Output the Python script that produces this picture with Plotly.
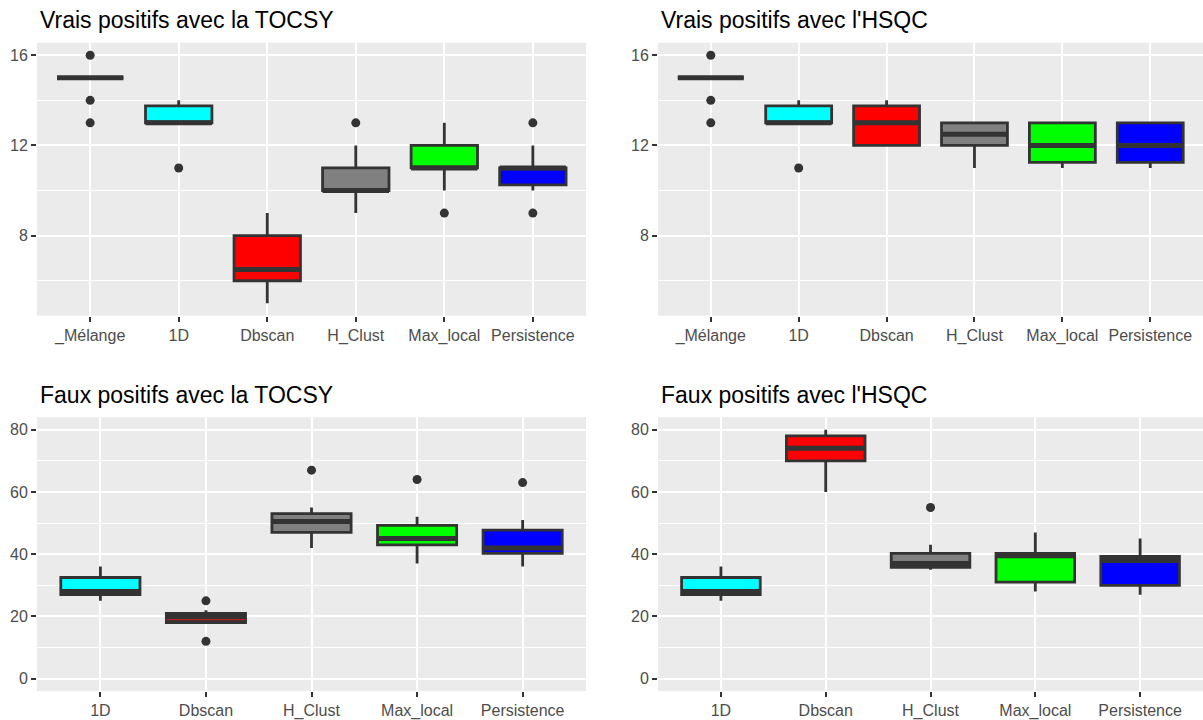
import plotly.graph_objects as go
from plotly.subplots import make_subplots

# ---- categories ----
CATS_VP = ["_Mélange", "1D", "Dbscan", "H_Clust", "Max_local", "Persistence"]
CATS_FP = ["1D", "Dbscan", "H_Clust", "Max_local", "Persistence"]

# ---- Vrais positifs, TOCSY ----
vp_tocsy_q1 = [15, 13, 6, 10, 11, 10.25]
vp_tocsy_med = [15, 13, 6.5, 10, 11, 11]
vp_tocsy_q3 = [15, 13.75, 8, 11, 12, 11]
vp_tocsy_lo = [15, 13, 5, 9, 10, 10]
vp_tocsy_hi = [15, 14, 9, 12, 13, 12]
vp_tocsy_out = [[16, 14, 13], [11], [], [13], [9], [13, 9]]

# ---- Vrais positifs, HSQC ----
vp_hsqc_q1 = [15, 13, 12, 12, 11.25, 11.25]
vp_hsqc_med = [15, 13, 13, 12.5, 12, 12]
vp_hsqc_q3 = [15, 13.75, 13.75, 13, 13, 13]
vp_hsqc_lo = [15, 13, 12, 11, 11, 11]
vp_hsqc_hi = [15, 14, 14, 13, 13, 13]
vp_hsqc_out = [[16, 14, 13], [11], [], [], [], []]

# ---- Faux positifs, TOCSY ----
fp_tocsy_q1 = [27, 18, 47, 43, 40.25]
fp_tocsy_med = [28, 19, 50.5, 45, 42]
fp_tocsy_q3 = [32.5, 21, 53, 49.25, 47.75]
fp_tocsy_lo = [25, 18, 42, 37, 36]
fp_tocsy_hi = [36, 22, 55, 52, 51]
fp_tocsy_out = [[], [25, 12], [67], [64], [63]]

# ---- Faux positifs, HSQC ----
fp_hsqc_q1 = [27, 70, 35.75, 31, 30]
fp_hsqc_med = [28, 74, 37, 39.5, 38]
fp_hsqc_q3 = [32.5, 78, 40.25, 40.25, 39.25]
fp_hsqc_lo = [25, 60, 35, 28, 27]
fp_hsqc_hi = [36, 80, 43, 47, 45]
fp_hsqc_out = [[], [], [55], [], []]

# ---- styles ----
FILL = {
    "_Mélange": "#FFFFFF",
    "1D": "#00FFFF",
    "Dbscan": "#FF0000",
    "H_Clust": "#808080",
    "Max_local": "#00FF00",
    "Persistence": "#0000FF",
}
EDGE = "#333333"
FONT = "Liberation Sans, Arial, sans-serif"

panels = [
    dict(title="Vrais positifs avec la TOCSY", cats=CATS_VP, q1=vp_tocsy_q1, med=vp_tocsy_med,
         q3=vp_tocsy_q3, lo=vp_tocsy_lo, hi=vp_tocsy_hi, out=vp_tocsy_out, row=1, col=1,
         special={}),
    dict(title="Vrais positifs avec l'HSQC", cats=CATS_VP, q1=vp_hsqc_q1, med=vp_hsqc_med,
         q3=vp_hsqc_q3, lo=vp_hsqc_lo, hi=vp_hsqc_hi, out=vp_hsqc_out, row=1, col=2,
         special={}),
    dict(title="Faux positifs avec la TOCSY", cats=CATS_FP, q1=fp_tocsy_q1, med=fp_tocsy_med,
         q3=fp_tocsy_q3, lo=fp_tocsy_lo, hi=fp_tocsy_hi, out=fp_tocsy_out, row=2, col=1,
         special={"Dbscan": dict(fill=EDGE, median_color="#B22222", median_width=1.2)}),
    dict(title="Faux positifs avec l'HSQC", cats=CATS_FP, q1=fp_hsqc_q1, med=fp_hsqc_med,
         q3=fp_hsqc_q3, lo=fp_hsqc_lo, hi=fp_hsqc_hi, out=fp_hsqc_out, row=2, col=2,
         special={}),
]

fig = make_subplots(rows=2, cols=2)

for p in panels:
    r, c = p["row"], p["col"]
    for i, cat in enumerate(p["cats"]):
        sp = p["special"].get(cat, {})
        # box body + whiskers
        fig.add_trace(go.Box(
            x=[cat], q1=[p["q1"][i]], median=[p["med"][i]], q3=[p["q3"][i]],
            lowerfence=[p["lo"][i]], upperfence=[p["hi"][i]],
            width=0.75, whiskerwidth=0, boxpoints=False,
            fillcolor=sp.get("fill", FILL[cat]),
            line=dict(color=EDGE, width=2.8),
            showlegend=False, hoverinfo="skip",
        ), row=r, col=c)
        # emphasised median bar
        m = p["med"][i]
        fig.add_trace(go.Box(
            x=[cat], q1=[m], median=[m], q3=[m], lowerfence=[m], upperfence=[m],
            width=0.75, whiskerwidth=0, boxpoints=False,
            fillcolor="rgba(0,0,0,0)",
            line=dict(color=sp.get("median_color", EDGE), width=sp.get("median_width", 5)),
            showlegend=False, hoverinfo="skip",
        ), row=r, col=c)
    # outliers
    ox, oy = [], []
    for cat, vals in zip(p["cats"], p["out"]):
        for v in vals:
            ox.append(cat)
            oy.append(v)
    fig.add_trace(go.Scatter(
        x=ox, y=oy, mode="markers",
        marker=dict(color=EDGE, size=9, line=dict(width=0)),
        showlegend=False, hoverinfo="skip",
    ), row=r, col=c)

# panel placement (paper fractions)
x_dom = {1: [0.0308, 0.4871], 2: [0.5470, 1.0]}
y_dom = {1: [0.5597, 0.9403], 2: [0.0361, 0.4181]}

axis_common = dict(
    showgrid=True, gridcolor="white", gridwidth=2.2,
    zeroline=False, showline=False,
    ticks="outside", ticklen=5, tickwidth=1.8, tickcolor=EDGE,
    tickfont=dict(family=FONT, size=16, color="#4D4D4D"),
    fixedrange=True,
)

for k, p in enumerate(panels, start=1):
    r, c = p["row"], p["col"]
    n = len(p["cats"])
    xa = "xaxis" if k == 1 else f"xaxis{k}"
    ya = "yaxis" if k == 1 else f"yaxis{k}"
    fig.layout[xa].update(
        domain=x_dom[c], type="category", categoryorder="array",
        categoryarray=p["cats"], range=[-0.6, n - 0.4], **axis_common,
    )
    if r == 1:
        yr, major, minor = [4.45, 16.55], [8, 12, 16], 2
    else:
        yr, major, minor = [-4, 84], [0, 20, 40, 60, 80], 10
    fig.layout[ya].update(
        domain=y_dom[r], range=yr, tickmode="array", tickvals=major,
        minor=dict(tickmode="linear", tick0=0, dtick=minor, showgrid=True,
                   gridcolor="white", gridwidth=1, ticklen=0),
        **axis_common,
    )
    title_y = 0.972 if r == 1 else 0.4486
    fig.add_annotation(
        text=p["title"], xref="paper", yref="paper",
        x=x_dom[c][0] + 0.0005, y=title_y, xanchor="left", yanchor="middle",
        showarrow=False, font=dict(family=FONT, size=23, color="black"),
    )

fig.update_layout(
    width=1203, height=720,
    margin=dict(l=0, r=0, t=0, b=0),
    paper_bgcolor="white", plot_bgcolor="#EBEBEB",
    boxmode="overlay",
    showlegend=False,
)

fig.write_html("out.html", config={"displayModeBar": False})
